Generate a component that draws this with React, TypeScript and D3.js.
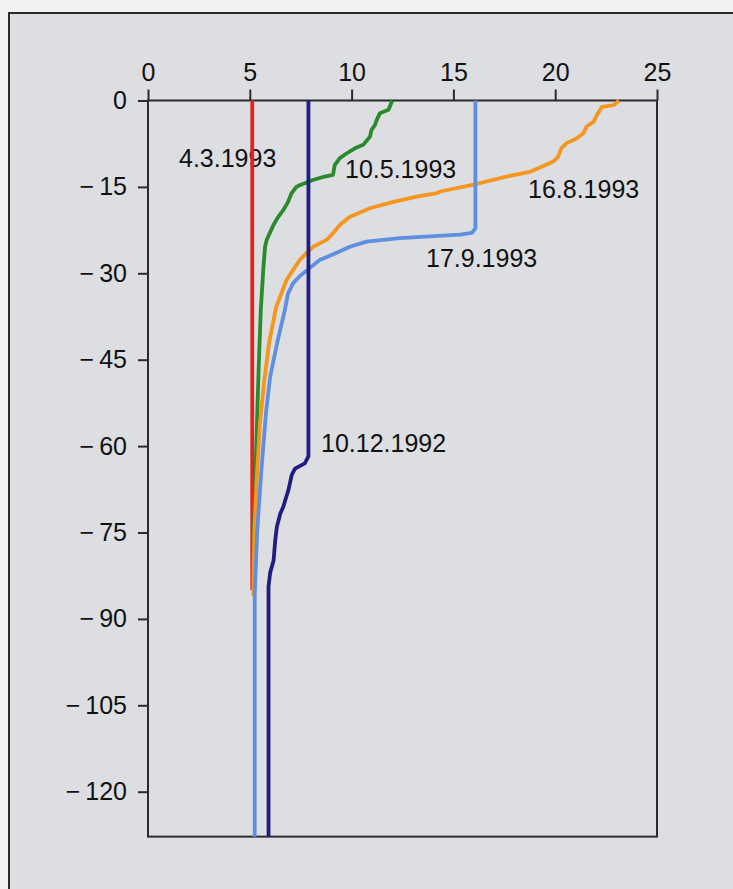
import React, { useEffect, useRef } from 'react';
import * as d3 from 'd3';

// temperature (°C) vs depth (m)
const xTicks = [0, 5, 10, 15, 20, 25];
const yTicks = [0, -15, -30, -45, -60, -75, -90, -105, -120];

const red_4_3_1993: [number, number][] = [[5.12, 0], [5.12, -85]];

const green_10_5_1993: [number, number][] = [
  [12.0, 0], [11.81, -1.6], [11.39, -2.2], [11.23, -3.4], [11.14, -4.3], [10.98, -5.1],
  [10.9, -6.3], [10.57, -7.7], [10.16, -8.3], [9.75, -9.2], [9.42, -10], [9.17, -11.2],
  [9.09, -12.9], [8.68, -13.2], [8.1, -13.8], [7.45, -14.7], [7.29, -15], [7.05, -16.1],
  [6.88, -17.6], [6.65, -19], [6.4, -20.2], [6.16, -21.6], [5.83, -24.2], [5.75, -25.4],
  [5.67, -28.9], [5.59, -33.5], [5.54, -36.4], [5.45, -45], [5.36, -55], [5.28, -65],
  [5.2, -75], [5.15, -84],
];

const orange_16_8_1993: [number, number][] = [
  [23.13, 0], [22.88, -0.8], [22.3, -1.1], [22.05, -2.5], [21.88, -3.7], [21.55, -4.5],
  [21.38, -5.7], [21.05, -6.6], [20.56, -7.4], [20.3, -8.3], [20.14, -9.8], [19.9, -10.6],
  [19.33, -11.5], [18.75, -12.4], [17.6, -13.2], [16.12, -14.5], [14.35, -15.8], [14.18, -16.1],
  [13.2, -16.7], [12.05, -17.6], [10.9, -18.7], [9.92, -20.2], [9.42, -21.6], [9.1, -23],
  [8.77, -24.2], [8.11, -25.4], [7.78, -26.5], [7.45, -27.7], [7.13, -29.4], [6.8, -31.2],
  [6.55, -33.5], [6.3, -35.8], [5.95, -42], [5.7, -49], [5.5, -56], [5.35, -65],
  [5.22, -75], [5.17, -86],
];

const blue_17_9_1993: [number, number][] = [
  [16.08, 0], [16.08, -22.2], [15.9, -23], [15.32, -23.3], [12.37, -23.9], [10.73, -24.5],
  [9.92, -25.4], [9.1, -26.7], [8.43, -27.7], [7.94, -29.1], [7.45, -30.5], [7.13, -31.7],
  [6.88, -33.5], [6.72, -36.4], [6.35, -42], [6.0, -48], [5.8, -54], [5.55, -65],
  [5.36, -75], [5.24, -86], [5.24, -127.8],
];

const navy_10_12_1992: [number, number][] = [
  [7.88, 0], [7.88, -61.8], [7.7, -63], [7.22, -63.9], [7.06, -65], [6.9, -67.6],
  [6.74, -69.4], [6.65, -70.5], [6.5, -71.7], [6.33, -74], [6.25, -76.3], [6.17, -79.8],
  [6.0, -82], [5.92, -84.4], [5.92, -127.8],
];

const depthBottom = -127.8;

const App = () => {
  const svgRef = useRef<SVGSVGElement>(null);

  useEffect(() => {
    const svg = d3.select(svgRef.current);
    svg.selectAll('*').remove();

    const x = d3.scaleLinear().domain([0, 25]).range([148, 657]);
    const y = d3.scaleLinear().domain([0, -120]).range([100.5, 791.7]);

    // page + framed panel
    svg.append('rect').attr('width', 733).attr('height', 889).attr('fill', '#f1f1f1');
    svg.append('rect')
      .attr('x', 9).attr('y', 13).attr('width', 760).attr('height', 910)
      .attr('fill', '#dcdee2').attr('stroke', '#2b2b2b').attr('stroke-width', 2);

    const font = '"Liberation Sans", Arial, Helvetica, sans-serif';

    // plot box
    svg.append('rect')
      .attr('x', x(0)).attr('y', y(0))
      .attr('width', x(25) - x(0)).attr('height', y(depthBottom) - y(0))
      .attr('fill', 'none').attr('stroke', '#2b2b2b').attr('stroke-width', 2);

    const fmt = (d: d3.NumberValue) => {
      const v = +d;
      return v < 0 ? `\u2212\u2009${Math.abs(v)}` : `${v}`;
    };

    const xAxis = svg.append('g')
      .attr('transform', `translate(0,${y(0)})`)
      .call(d3.axisTop(x).tickValues(xTicks).tickSize(11).tickPadding(9).tickFormat(fmt));
    const yAxis = svg.append('g')
      .attr('transform', `translate(${x(0)},0)`)
      .call(d3.axisLeft(y).tickValues(yTicks).tickSize(10).tickPadding(11).tickFormat(fmt));

    [xAxis, yAxis].forEach(a => {
      a.select('.domain').remove();
      a.selectAll('line').attr('stroke', '#2b2b2b').attr('stroke-width', 2);
      a.selectAll('text')
        .attr('fill', '#111')
        .style('font-family', font)
        .style('font-size', '25px');
    });

    // curve labels (drawn under the lines)
    const labels = [
      { text: '4.3.1993', x: 179, y: 167 },
      { text: '10.5.1993', x: 345, y: 178 },
      { text: '16.8.1993', x: 528, y: 198 },
      { text: '17.9.1993', x: 426, y: 267 },
      { text: '10.12.1992', x: 321, y: 452 },
    ];
    svg.append('g')
      .selectAll('text')
      .data(labels)
      .join('text')
      .attr('x', d => d.x)
      .attr('y', d => d.y)
      .attr('fill', '#111')
      .style('font-family', font)
      .style('font-size', '25px')
      .text(d => d.text);

    const line = d3.line<[number, number]>()
      .x(d => x(d[0]))
      .y(d => y(d[1]));

    const series = [
      { data: red_4_3_1993, color: '#e3241d' },
      { data: green_10_5_1993, color: '#2a8a2c' },
      { data: orange_16_8_1993, color: '#f5961e' },
      { data: blue_17_9_1993, color: '#5f8fe0' },
      { data: navy_10_12_1992, color: '#1f1c82' },
    ];

    svg.append('g')
      .attr('fill', 'none')
      .attr('stroke-width', 3.8)
      .attr('stroke-linejoin', 'round')
      .attr('stroke-linecap', 'butt')
      .selectAll('path')
      .data(series)
      .join('path')
      .attr('d', d => line(d.data))
      .attr('stroke', d => d.color);
  }, []);

  return (
    <svg
      ref={svgRef}
      width={733}
      height={889}
      style={{ position: 'absolute', left: 0, top: 0, display: 'block' }}
    />
  );
};

export default App;
